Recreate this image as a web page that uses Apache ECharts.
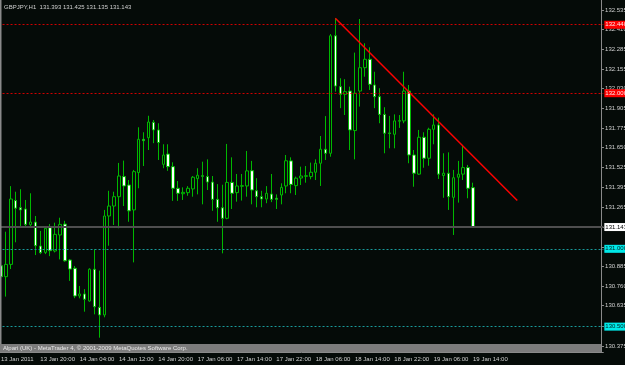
<!DOCTYPE html>
<html>
<head>
<meta charset="utf-8">
<script src="https://cdn.jsdelivr.net/npm/echarts@6/dist/echarts.min.js"></script>
<style>
  html, body { margin: 0; padding: 0; background: #050b08; }
  #chart { width: 625px; height: 365px; }
</style>
</head>
<body>
<div id="chart"></div>
<script>
// GBPJPY H1 bars: [open, close, low, high]
const bars = [
  [130.891, 130.821, 130.800, 131.046],
  [130.821, 130.900, 130.693, 131.110],
  [130.900, 131.320, 130.870, 131.403],
  [131.310, 131.261, 131.042, 131.367],
  [131.264, 131.250, 131.142, 131.383],
  [131.256, 131.157, 131.142, 131.314],
  [131.155, 131.172, 131.146, 131.357],
  [131.172, 131.020, 130.960, 131.211],
  [131.018, 130.975, 130.966, 131.115],
  [130.977, 131.132, 130.966, 131.146],
  [131.136, 130.988, 130.953, 131.159],
  [130.986, 131.093, 130.977, 131.168],
  [131.089, 131.157, 130.932, 131.200],
  [131.159, 130.923, 130.917, 131.180],
  [130.928, 130.870, 130.794, 130.934],
  [130.875, 130.697, 130.683, 130.890],
  [130.697, 130.710, 130.682, 130.761],
  [130.710, 130.676, 130.596, 130.741],
  [130.665, 130.869, 130.660, 130.875],
  [130.869, 130.628, 130.579, 130.997],
  [130.624, 130.575, 130.429, 130.860],
  [130.575, 131.211, 130.560, 131.250],
  [131.211, 131.275, 131.020, 131.373],
  [131.275, 131.335, 131.153, 131.367],
  [131.335, 131.468, 131.132, 131.552],
  [131.464, 131.404, 131.275, 131.567],
  [131.410, 131.244, 131.174, 131.442],
  [131.250, 131.496, 130.913, 131.507],
  [131.490, 131.704, 131.389, 131.781],
  [131.704, 131.695, 131.532, 131.749],
  [131.714, 131.815, 131.635, 131.855],
  [131.813, 131.764, 131.679, 131.828],
  [131.764, 131.683, 131.571, 131.807],
  [131.543, 131.603, 131.518, 131.672],
  [131.609, 131.528, 131.501, 131.672],
  [131.528, 131.389, 131.308, 131.556],
  [131.389, 131.357, 131.308, 131.436],
  [131.354, 131.363, 131.314, 131.395],
  [131.361, 131.389, 131.341, 131.403],
  [131.385, 131.460, 131.335, 131.468],
  [131.451, 131.473, 131.350, 131.518],
  [131.470, 131.466, 131.286, 131.560],
  [131.464, 131.429, 131.378, 131.575],
  [131.429, 131.318, 131.244, 131.468],
  [131.318, 131.264, 131.174, 131.416],
  [131.264, 131.196, 130.971, 131.412],
  [131.196, 131.427, 131.190, 131.674],
  [131.427, 131.357, 131.256, 131.588],
  [131.361, 131.404, 131.303, 131.481],
  [131.402, 131.406, 131.310, 131.481],
  [131.404, 131.501, 131.335, 131.629],
  [131.502, 131.378, 131.286, 131.565],
  [131.373, 131.335, 131.267, 131.454],
  [131.335, 131.320, 131.267, 131.373],
  [131.320, 131.357, 131.293, 131.403],
  [131.352, 131.318, 131.300, 131.481],
  [131.325, 131.318, 131.256, 131.350],
  [131.346, 131.395, 131.286, 131.421],
  [131.404, 131.566, 131.357, 131.603],
  [131.565, 131.414, 131.357, 131.588],
  [131.406, 131.454, 131.346, 131.464],
  [131.455, 131.468, 131.410, 131.528],
  [131.466, 131.470, 131.425, 131.532],
  [131.464, 131.492, 131.447, 131.554],
  [131.492, 131.550, 131.442, 131.575],
  [131.550, 131.640, 131.404, 131.725],
  [131.640, 131.614, 131.571, 131.853],
  [131.614, 132.369, 131.592, 132.380],
  [132.369, 132.046, 132.010, 132.482],
  [132.042, 131.993, 131.904, 132.096],
  [131.993, 132.010, 131.860, 132.090],
  [132.014, 131.764, 131.635, 132.042],
  [131.760, 132.000, 131.575, 132.261],
  [132.014, 132.164, 131.914, 132.477],
  [132.164, 132.218, 132.106, 132.321],
  [132.218, 132.057, 132.021, 132.295],
  [132.053, 131.978, 131.904, 132.138],
  [131.978, 131.864, 131.807, 132.032],
  [131.864, 131.743, 131.614, 131.910],
  [131.745, 131.741, 131.646, 131.854],
  [131.736, 131.822, 131.646, 131.864],
  [131.820, 131.824, 131.777, 131.860],
  [131.822, 132.014, 131.807, 132.138],
  [132.014, 131.603, 131.550, 132.053],
  [131.603, 131.486, 131.399, 131.635],
  [131.480, 131.717, 131.475, 131.764],
  [131.717, 131.582, 131.521, 131.749],
  [131.582, 131.768, 131.534, 131.778],
  [131.768, 131.796, 131.672, 131.864],
  [131.796, 131.480, 131.449, 131.843],
  [131.471, 131.486, 131.328, 131.614],
  [131.486, 131.335, 131.250, 131.620],
  [131.331, 131.457, 131.089, 131.507],
  [131.460, 131.480, 131.297, 131.565],
  [131.480, 131.522, 131.442, 131.668],
  [131.522, 131.389, 131.325, 131.539],
  [131.393, 131.143, 131.135, 131.425]
];

// time axis labels (bar index -> label)
const xTickIdx = [0, 8, 16, 24, 32, 40, 48, 56, 64, 72, 80, 88, 96];
const xTickLabels = ['13 Jan 2011', '13 Jan 20:00', '14 Jan 04:00', '14 Jan 12:00', '14 Jan 20:00',
  '17 Jan 06:00', '17 Jan 14:00', '17 Jan 22:00', '18 Jan 06:00', '18 Jan 14:00',
  '18 Jan 22:00', '19 Jan 06:00', '19 Jan 14:00'];
const yTickLabels = ['132.535', '132.410', '132.285', '132.155', '132.030', '131.905', '131.775',
  '131.650', '131.525', '131.395', '131.265', '131.140', '131.010', '130.885', '130.760',
  '130.635', '130.505', '130.375'];

const redLevels = [132.440, 132.000];
const cyanLevels = [131.000, 130.500];
const bidPrice = 131.143;
const trendLine = [[68, 132.482], [105, 131.310]];
const totalSlots = 123; // bars plus empty space on the right

const BG = '#050b08';
const GREEN = '#00b800';
const AXIS = '#8a8a8a';
const TXT = '#d0d0d0';
const FONT = 'Liberation Sans, Arial, sans-serif';

const categories = Array.from({ length: totalSlots }, (_, i) => String(i));
const isTick = (i) => xTickIdx.indexOf(i) >= 0;

function levelLine(v, lineColor, boxColor, textColor, solid) {
  return {
    yAxis: v,
    lineStyle: { color: lineColor, type: solid ? 'solid' : [2, 2], width: solid ? 2 : 1 },
    label: {
      show: true,
      position: 'end',
      distance: 1,
      formatter: () => v.toFixed(3),
      backgroundColor: boxColor,
      color: textColor,
      fontSize: 6,
      fontFamily: FONT,
      lineHeight: 7,
      padding: [1, 1, 0, 1]
    }
  };
}

const chart = echarts.init(document.getElementById('chart'));
chart.setOption({
  backgroundColor: BG,
  animation: false,
  title: {
    text: 'GBPJPY,H1  131.393 131.425 131.135 131.143',
    left: 4,
    top: 4,
    padding: 0,
    textStyle: { color: TXT, fontSize: 6, fontWeight: 'normal', fontFamily: FONT }
  },
  grid: { left: -1.46, top: 0, width: 604.8, height: 352, outerBoundsMode: 'none', containLabel: false },
  xAxis: {
    type: 'category',
    data: categories,
    boundaryGap: true,
    axisLine: { show: true, lineStyle: { color: AXIS } },
    axisTick: { alignWithLabel: true, interval: isTick, length: 3, lineStyle: { color: AXIS } },
    axisLabel: {
      interval: isTick,
      formatter: (v, i) => xTickLabels[xTickIdx.indexOf(i)] || '',
      align: 'left',
      margin: 4,
      color: TXT,
      fontSize: 6,
      fontFamily: FONT
    },
    splitLine: { show: false }
  },
  yAxis: {
    type: 'value',
    position: 'right',
    offset: -2.3,
    min: 130.337,
    max: 132.599,
    splitLine: { show: false },
    axisLine: { show: true, lineStyle: { color: AXIS } },
    axisTick: { show: true, customValues: yTickLabels.map(Number), length: 3, lineStyle: { color: AXIS } },
    axisLabel: {
      customValues: yTickLabels.map(Number),
      formatter: (v) => v.toFixed(3),
      margin: 4,
      color: TXT,
      fontSize: 6,
      fontFamily: FONT
    }
  },
  graphic: [
    { type: 'rect', left: 0, top: 0, shape: { width: 1.5, height: 352 }, style: { fill: AXIS }, z: 10 },
    { type: 'rect', left: 0, top: 344, shape: { width: 601, height: 8 }, style: { fill: '#7c7c7c' }, z: 10 },
    {
      type: 'text', left: 3, top: 345, z: 11,
      style: { text: 'Alpari (UK) - MetaTrader 4, © 2001-2009 MetaQuotes Software Corp.', fill: '#e8e8e8', fontSize: 6, fontFamily: FONT }
    }
  ],
  series: [
    {
      type: 'candlestick',
      data: bars,
      barWidth: 3,
      silent: true,
      itemStyle: {
        color: BG,
        color0: '#ffffff',
        borderColor: GREEN,
        borderColor0: GREEN,
        borderWidth: 1
      },
      markLine: {
        silent: true,
        symbol: 'none',
        animation: false,
        data: [
          levelLine(redLevels[0], '#d00000', '#ff0000', '#ffe8e8', false),
          levelLine(redLevels[1], '#d00000', '#ff0000', '#ffe8e8', false),
          levelLine(cyanLevels[0], '#1a9a9a', '#00e8e8', '#002020', false),
          levelLine(cyanLevels[1], '#1a9a9a', '#00e8e8', '#002020', false),
          levelLine(bidPrice, '#4e4e4e', '#ffffff', '#000000', true)
        ]
      }
    },
    {
      type: 'line',
      data: trendLine,
      symbol: 'none',
      silent: true,
      lineStyle: { color: '#ff0000', width: 1.5 },
      z: 5
    }
  ]
});
</script>
</body>
</html>
